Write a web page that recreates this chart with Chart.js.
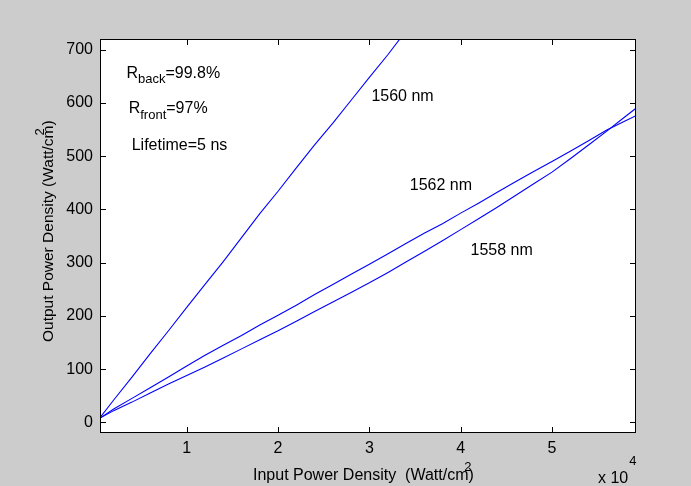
<!DOCTYPE html>
<html>
<head>
<meta charset="utf-8">
<title>Output vs input power density</title>
<script src="https://cdn.jsdelivr.net/npm/chart.js@4.4.0/dist/chart.umd.min.js"></script>
<style>
  html, body { margin: 0; padding: 0; background: #cccccc; }
  canvas { display: block; }
</style>
</head>
<body>
<canvas id="powerChart" width="691" height="486"></canvas>
<script>
// input power density, W/cm^2
var inputPower = [500, 2000, 4000, 6000, 8000, 10000, 12000, 14000, 16000, 18000, 20000,
  22000, 24000, 26000, 28000, 30000, 32000, 34000, 36000, 38000, 40000, 42000, 44000,
  46000, 48000, 50000, 52000, 54000, 56000, 58000, 59200];
var inputPower1560 = [500, 2000, 4000, 6000, 8000, 10000, 12000, 14000, 16000, 18000, 20000,
  22000, 24000, 26000, 28000, 30000, 32000, 34000];

// output power density, W/cm^2
var out1560 = [9, 42, 85, 129, 172, 216, 259, 302, 347, 392, 434, 478, 521, 562, 605, 648, 690, 735];
var out1562 = [8, 25, 45, 65, 85, 106, 126, 145, 163, 183, 201, 220, 240, 259, 278, 297, 316,
  336, 355, 373, 393, 412, 432, 452, 471, 490, 509, 529, 549, 566, 576];
var out1558 = [8, 22, 38, 55, 72, 88, 104, 121, 138, 155, 172, 190, 208, 226, 244, 262, 281,
  301, 321, 341, 362, 383, 404, 426, 448, 470, 495, 521, 547, 574, 590];

var xTicks = [10000, 20000, 30000, 40000, 50000];
var yTicks = [0, 100, 200, 300, 400, 500, 600, 700];

var FONT = '"Liberation Sans", Arial, Helvetica, sans-serif';

function pairs(xs, ys) {
  return ys.map(function(y, i) { return { x: xs[i], y: y }; });
}

// text placed in data coordinates; each part is [text, isSubscript]
var notes = [
  { x: 3390, y: 647, parts: [['R', 0], ['back', 1], ['=99.8%', 0]] },
  { x: 3640, y: 581, parts: [['R', 0], ['front', 1], ['=97%', 0]] },
  { x: 3970, y: 512, parts: [['Lifetime=5 ns', 0]] },
  { x: 30220, y: 603, parts: [['1560 nm', 0]] },
  { x: 34420, y: 437, parts: [['1562 nm', 0]] },
  { x: 41075, y: 314, parts: [['1558 nm', 0]] }
];

function drawParts(ctx, x, y, parts) {
  parts.forEach(function(p) {
    if (p[1]) {
      ctx.font = '13px ' + FONT;
      ctx.fillText(p[0], x, y + 5.5);
    } else {
      ctx.font = '16px ' + FONT;
      ctx.fillText(p[0], x, y);
    }
    x += ctx.measureText(p[0]).width;
  });
}

var matlabFrame = {
  id: 'matlabFrame',
  beforeDraw: function(chart) {
    var ctx = chart.ctx, a = chart.chartArea;
    ctx.save();
    ctx.fillStyle = '#cccccc';
    ctx.fillRect(0, 0, chart.width, chart.height);
    ctx.fillStyle = '#ffffff';
    ctx.fillRect(a.left, a.top, a.right - a.left, a.bottom - a.top);
    ctx.restore();
  },
  afterDraw: function(chart) {
    var ctx = chart.ctx, a = chart.chartArea;
    var xs = chart.scales.x, ys = chart.scales.y;
    var L = Math.round(a.left) + 0.5, R = Math.round(a.right) - 0.5;
    var T = Math.round(a.top) + 0.5, B = Math.round(a.bottom) - 0.5;
    var len = 5.5;
    ctx.save();
    ctx.strokeStyle = '#000000';
    ctx.lineWidth = 1;
    ctx.strokeRect(L, T, R - L, B - T);
    ctx.beginPath();
    xTicks.forEach(function(v) {
      var px = Math.round(xs.getPixelForValue(v)) + 0.5;
      ctx.moveTo(px, B); ctx.lineTo(px, B - len);
      ctx.moveTo(px, T); ctx.lineTo(px, T + len);
    });
    yTicks.forEach(function(v) {
      var py = Math.round(ys.getPixelForValue(v)) + 0.5;
      ctx.moveTo(L, py); ctx.lineTo(L + len, py);
      ctx.moveTo(R, py); ctx.lineTo(R - len, py);
    });
    ctx.stroke();

    ctx.fillStyle = '#000000';
    ctx.textAlign = 'left';
    ctx.textBaseline = 'alphabetic';
    notes.forEach(function(n) {
      drawParts(ctx, xs.getPixelForValue(n.x), ys.getPixelForValue(n.y), n.parts);
    });

    // axis titles, with the exponent tucked over the "cm"
    ctx.font = '16px ' + FONT;
    var xt = 'Input Power Density  (Watt/cm)';
    var x0 = 253, y0 = 480;
    ctx.fillText(xt, x0, y0);
    var cw = ctx.measureText('Input Power Density  (Watt/c').width;
    ctx.font = '13px ' + FONT;
    ctx.fillText('2', x0 + cw + 9, y0 - 9);

    ctx.save();
    ctx.translate(53, 342);
    ctx.rotate(-Math.PI / 2);
    ctx.font = '15.5px ' + FONT;
    var yt = 'Output Power Density (Watt/cm)';
    ctx.fillText(yt, 0, 0);
    var cw2 = ctx.measureText('Output Power Density (Watt/c').width;
    ctx.font = '13px ' + FONT;
    ctx.fillText('2', cw2 + 3, -9);
    ctx.restore();

    // x-axis scale factor
    ctx.font = '16px ' + FONT;
    ctx.fillText('x 10', 598, 483);
    var w10 = ctx.measureText('x 10').width;
    ctx.font = '13px ' + FONT;
    ctx.fillText('4', 598 + w10 + 1, 465);
    ctx.restore();
  }
};

var lineStyle = {
  borderColor: '#0000ff',
  backgroundColor: '#0000ff',
  borderWidth: 1.1,
  pointRadius: 0,
  fill: false,
  tension: 0,
  clip: 0
};

new Chart(document.getElementById('powerChart'), {
  type: 'line',
  data: {
    datasets: [
      Object.assign({ label: '1560 nm', data: pairs(inputPower1560, out1560) }, lineStyle),
      Object.assign({ label: '1562 nm', data: pairs(inputPower, out1562) }, lineStyle),
      Object.assign({ label: '1558 nm', data: pairs(inputPower, out1558) }, lineStyle)
    ]
  },
  options: {
    responsive: false,
    animation: false,
    events: [],
    layout: { autoPadding: false, padding: { left: 0, right: 55, top: 39, bottom: 0 } },
    plugins: { legend: { display: false }, tooltip: { enabled: false } },
    scales: {
      x: {
        type: 'linear',
        min: 500,
        max: 59200,
        grid: { display: false, drawTicks: false },
        border: { display: false },
        afterBuildTicks: function(scale) {
          scale.ticks = xTicks.map(function(v) { return { value: v }; });
        },
        afterFit: function(scale) { scale.height = 53; },
        ticks: {
          color: '#000000',
          padding: 6,
          maxRotation: 0,
          font: { family: FONT, size: 16 },
          callback: function(v) { return String(v / 10000); }
        }
      },
      y: {
        type: 'linear',
        min: -20,
        max: 720,
        grid: { display: false, drawTicks: false },
        border: { display: false },
        afterBuildTicks: function(scale) {
          scale.ticks = yTicks.map(function(v) { return { value: v }; });
        },
        afterFit: function(scale) { scale.width = 100; },
        ticks: {
          color: '#000000',
          padding: 7,
          font: { family: FONT, size: 16 },
          callback: function(v) { return String(v); }
        }
      }
    }
  },
  plugins: [matlabFrame]
});
</script>
</body>
</html>
